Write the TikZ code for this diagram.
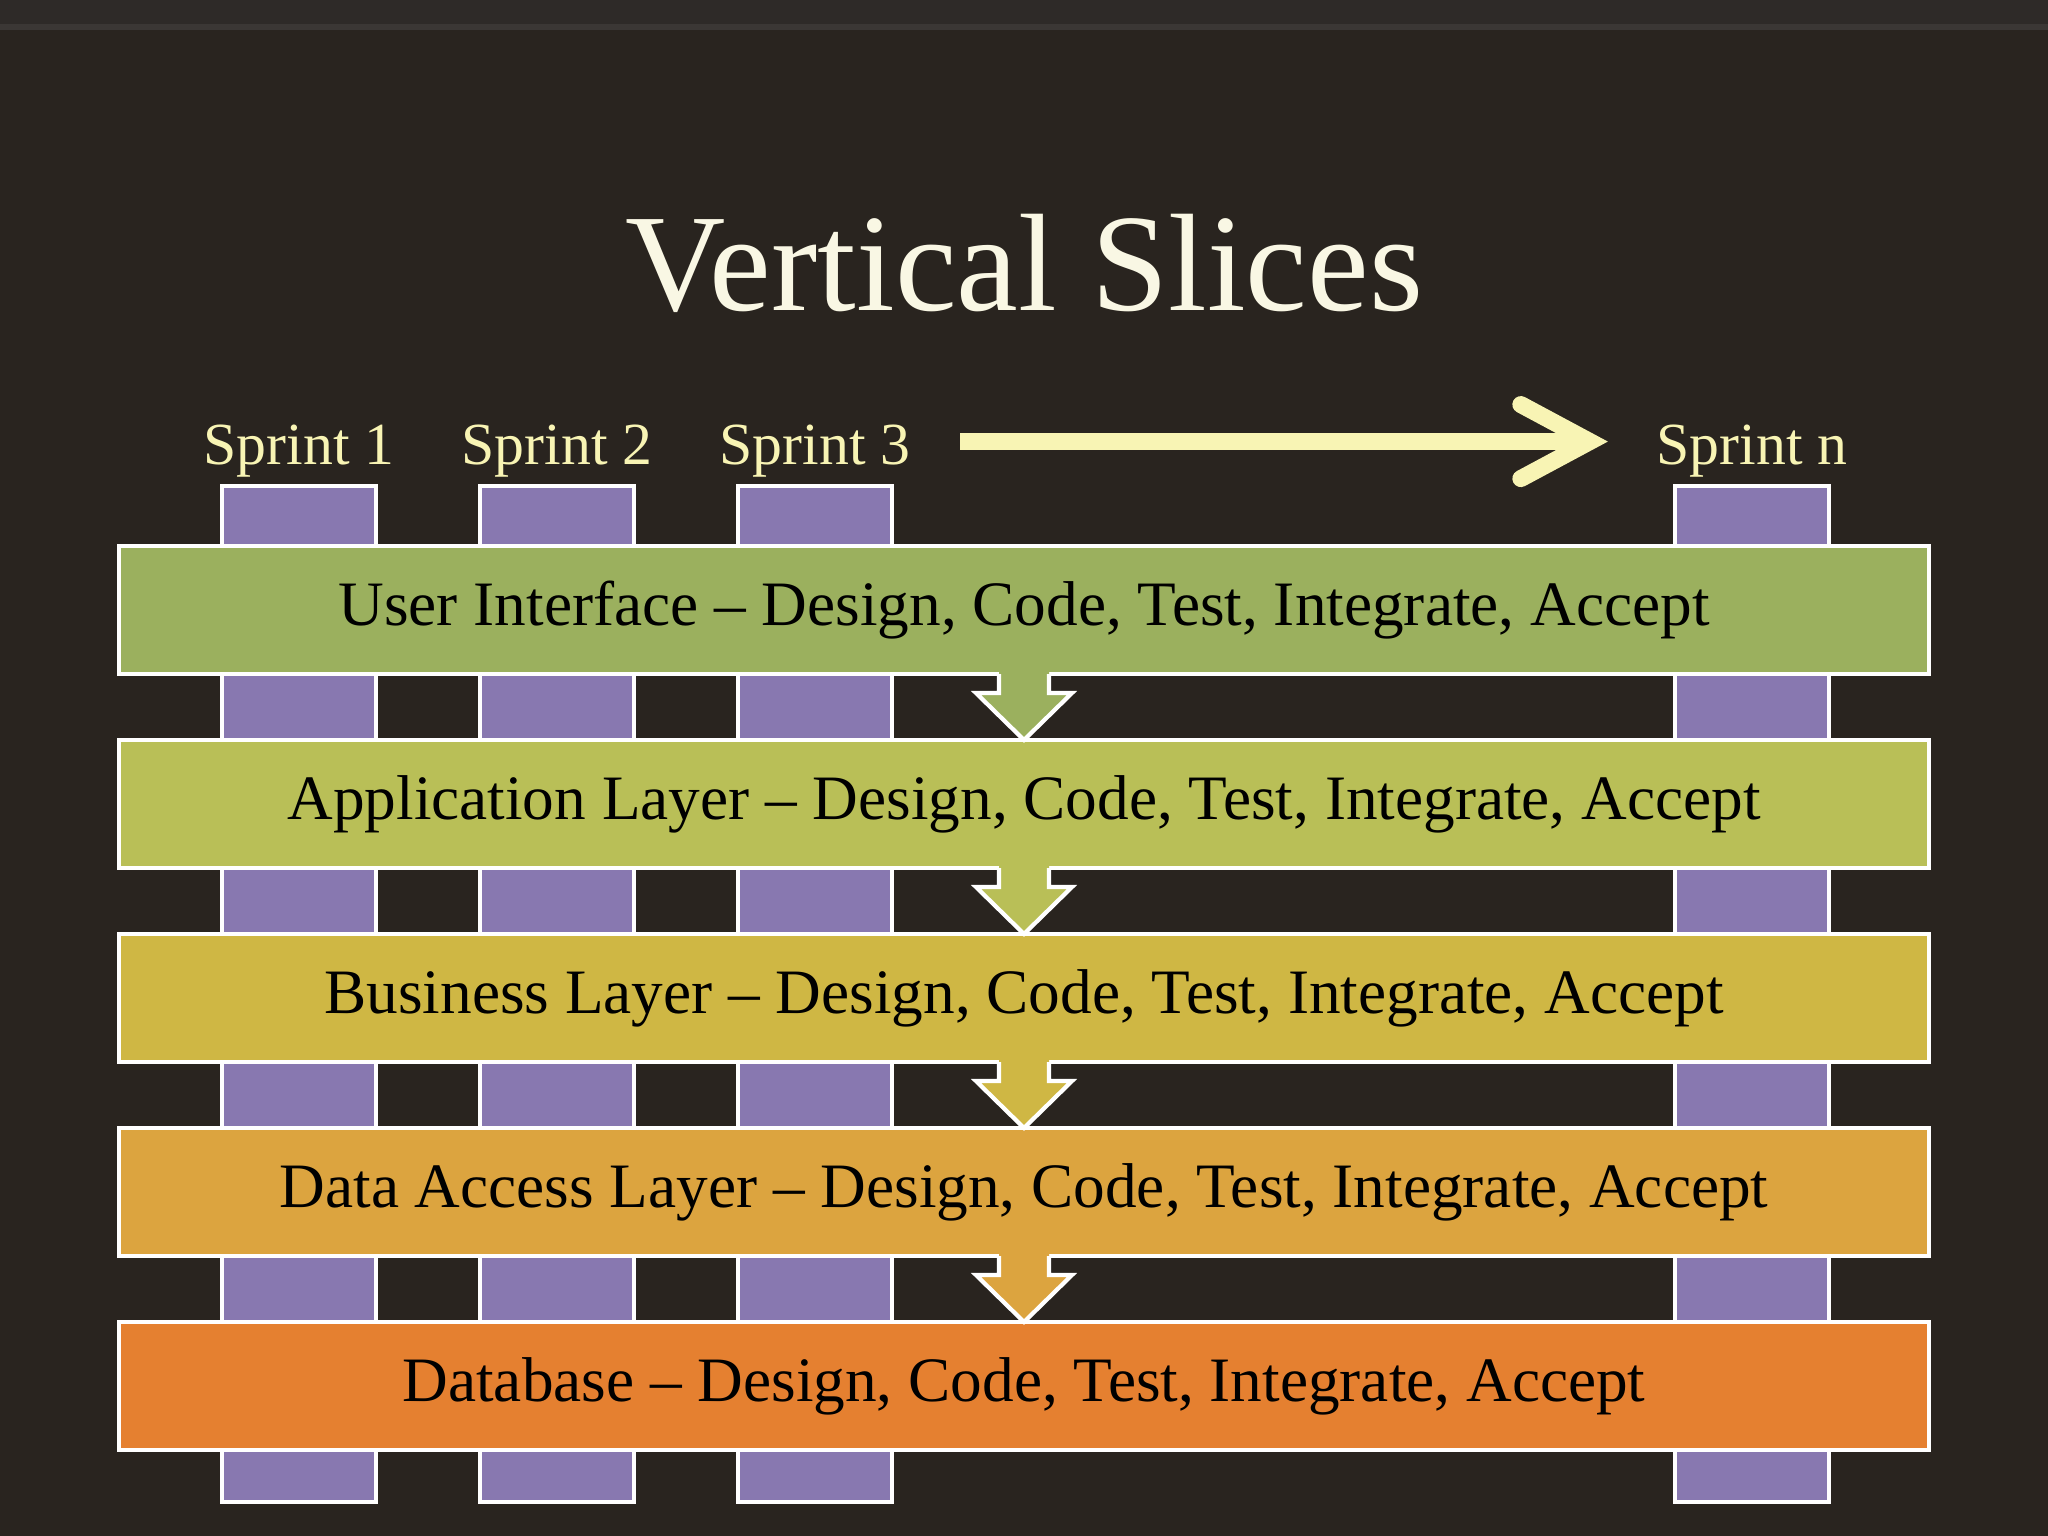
\documentclass[tikz,border=0pt]{standalone}
\usepackage{fontspec}
\setmainfont{Liberation Serif}
\usetikzlibrary{positioning}

\definecolor{board}{HTML}{29241F}
\definecolor{boardtop}{HTML}{2E2A28}
\definecolor{boardline}{HTML}{3B3735}
\definecolor{chalk}{HTML}{F8F4B4}
\definecolor{titlecream}{HTML}{F9F7E4}
\definecolor{slicepurple}{HTML}{8878B0}
\definecolor{uigreen}{HTML}{9BB05E}
\definecolor{appgreen}{HTML}{B9BF57}
\definecolor{bizgold}{HTML}{CFB744}
\definecolor{dalamber}{HTML}{DCA43F}
\definecolor{dborange}{HTML}{E58030}

\tikzset{
  sprintcol/.style={draw=white, line width=1.2pt, fill=slicepurple, minimum width=1.54cm,
    minimum height=10.16cm, inner sep=0pt, outer sep=0pt},
  layer/.style={draw=white, line width=1.2pt, minimum width=18.1cm, minimum height=1.28cm,
    inner sep=0pt, outer sep=0pt, text=black, text height=1.12em, text depth=0.22em,
    font=\fontsize{18}{22}\selectfont},
  sprintlabel/.style={text=chalk, inner sep=0pt, anchor=base, font=\fontsize{17}{20}\selectfont},
  timeline/.style={draw=chalk, line width=1.7mm},
  slicearrow/.style={draw=white, line width=1.2pt, line join=miter},
}

\begin{document}
\begin{tikzpicture}
\useasboundingbox (0,0) rectangle (20.48,-15.36);
\fill[board] (0,0) rectangle (20.48,-15.36);
\fill[boardtop] (0,0) rectangle (20.48,-0.27);
\draw[boardline, line width=1.5pt] (0,-0.27) -- (20.48,-0.27);

\node[text=titlecream, inner sep=0pt, anchor=base, font=\fontsize{39.5}{45}\selectfont] (title)
  at (10.24,-3.11) {Vertical Slices};

\foreach \n/\x in {1/2.99, 2/5.57, 3/8.15, n/17.52} {
  \node[sprintcol] (c\n) at (\x,-9.94) {};
  \node[sprintlabel] (s\n) at ([yshift=2.1mm]c\n.north) {Sprint \n};
}

\draw[timeline] ([shift={(4.9mm,1mm)}]s3.east) -- ([shift={(-7.2mm,1mm)}]sn.west) coordinate (tip);
\draw[timeline, line cap=round, line join=miter]
  ([shift={(-6.3mm,3.7mm)}]tip) -- ([xshift=0.6mm]tip) -- ([shift={(-6.3mm,-3.7mm)}]tip);

\node[layer, fill=uigreen] (ui) at (10.24,-6.10) {User Interface -- Design, Code, Test, Integrate, Accept};
\node[layer, fill=appgreen, below=0.66cm of ui] (app) {Application Layer -- Design, Code, Test, Integrate, Accept};
\node[layer, fill=bizgold, below=0.66cm of app] (biz) {Business Layer -- Design, Code, Test, Integrate, Accept};
\node[layer, fill=dalamber, below=0.66cm of biz] (dal) {Data Access Layer -- Design, Code, Test, Integrate, Accept};
\node[layer, fill=dborange, below=0.66cm of dal] (db) {Database -- Design, Code, Test, Integrate, Accept};

\foreach \a/\b/\c in {ui/app/uigreen, app/biz/appgreen, biz/dal/bizgold, dal/db/dalamber} {
  \fill[\c] ([shift={(-2.5mm,0.5mm)}]\a.south) -- ([shift={(-2.5mm,-1.9mm)}]\a.south)
    -- ([shift={(-4.8mm,-1.9mm)}]\a.south) -- (\b.north) -- ([shift={(4.8mm,-1.9mm)}]\a.south)
    -- ([shift={(2.5mm,-1.9mm)}]\a.south) -- ([shift={(2.5mm,0.5mm)}]\a.south) -- cycle;
  \draw[slicearrow] ([xshift=-2.5mm]\a.south) -- ([shift={(-2.5mm,-1.9mm)}]\a.south)
    -- ([shift={(-4.8mm,-1.9mm)}]\a.south) -- (\b.north) -- ([shift={(4.8mm,-1.9mm)}]\a.south)
    -- ([shift={(2.5mm,-1.9mm)}]\a.south) -- ([xshift=2.5mm]\a.south);
}
\end{tikzpicture}
\end{document}
